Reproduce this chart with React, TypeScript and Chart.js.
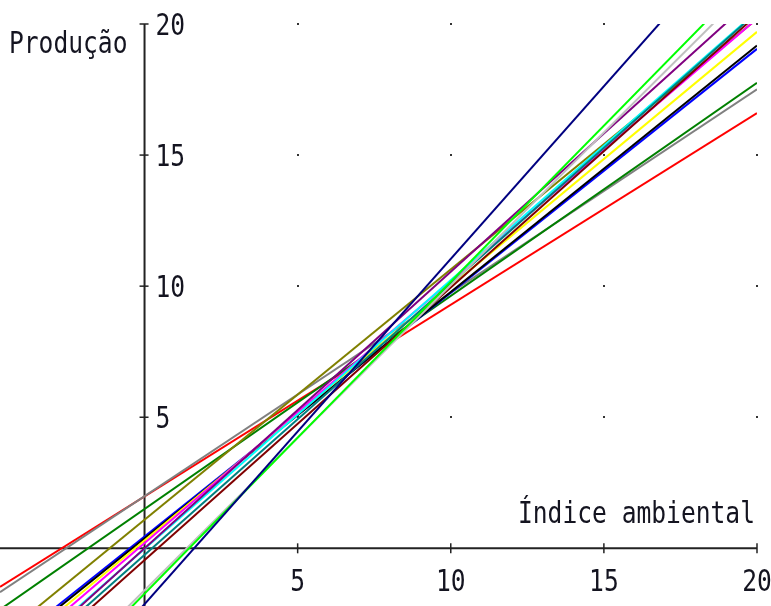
import React, { useEffect, useRef } from "react";
import { Chart, registerables } from "chart.js";

Chart.register(...registerables);

// Genotype regression lines (Finlay-Wilkinson style): y = a + b * x
const genotypeColors = [
  "#000080", "#00FF00", "#C0C0C0", "#800080", "#008080",
  "#00FFFF", "#800000", "#FF00FF", "#808000", "#FFFF00",
  "#000000", "#0000FF", "#008000", "#808080", "#FF0000",
];
const intercepts = [
  -2.13, -1.73, -1.6, 0.0, -0.25,
  -0.02, -0.45, 0.2, 1.09, 0.3,
  0.38, 0.45, 1.5, 1.99, 1.98,
];
const slopes = [
  1.317, 1.19, 1.164, 1.055, 1.035,
  1.025, 1.04, 1.0, 0.955, 0.97,
  0.94, 0.93, 0.813, 0.776, 0.731,
];

const xTicks = [5, 10, 15, 20];
const yTicks = [5, 10, 15, 20];
const xTickLabels = ["5", "10", "15", "20"];
const yTickLabels = ["5", "10", "15", "20"];

const xTitle = "Índice ambiental";
const yTitle = "Produção";

const X_MIN = -4.72;
const X_MAX = 20;
const Y_MIN = -2.2;
const Y_MAX = 20;

const FONT = "30px 'DejaVu Sans Mono', monospace";
const SX = 0.82;

function drawText(ctx: CanvasRenderingContext2D, text: string, x: number, y: number, align: "left" | "center") {
  ctx.save();
  ctx.font = FONT;
  ctx.fillStyle = "#141420";
  ctx.textBaseline = "alphabetic";
  const w = ctx.measureText(text).width * SX;
  const left = align === "center" ? x - w / 2 : x;
  ctx.translate(left, y);
  ctx.scale(SX, 1);
  ctx.textAlign = "left";
  ctx.fillText(text, 0, 0);
  ctx.restore();
}

const axesPlugin = {
  id: "customAxes",
  beforeDatasetsDraw(chart: any) {
    const ctx: CanvasRenderingContext2D = chart.ctx;
    const xs = chart.scales.x;
    const ys = chart.scales.y;
    const x0 = xs.getPixelForValue(0);
    const y0 = ys.getPixelForValue(0);
    const xEnd = xs.getPixelForValue(X_MAX);
    const yTop = ys.getPixelForValue(Y_MAX);

    ctx.save();
    // grid dots
    ctx.fillStyle = "#333";
    xTicks.forEach((tx) => {
      yTicks.forEach((ty) => {
        const px = Math.round(xs.getPixelForValue(tx));
        const py = Math.round(ys.getPixelForValue(ty));
        ctx.fillRect(px - 1, py - 1, 2, 2);
      });
    });

    ctx.strokeStyle = "#222";
    ctx.lineWidth = 2;
    // x axis
    ctx.beginPath();
    ctx.moveTo(0, y0);
    ctx.lineTo(xEnd, y0);
    ctx.stroke();
    // y axis
    ctx.beginPath();
    ctx.moveTo(x0, yTop);
    ctx.lineTo(x0, chart.height);
    ctx.stroke();

    ctx.lineWidth = 1.5;
    xTicks.forEach((tx) => {
      const px = xs.getPixelForValue(tx);
      ctx.beginPath();
      ctx.moveTo(px, y0 - 5);
      ctx.lineTo(px, y0 + 5);
      ctx.stroke();
    });
    yTicks.forEach((ty) => {
      const py = ys.getPixelForValue(ty);
      ctx.beginPath();
      ctx.moveTo(x0 - 5, py);
      ctx.lineTo(x0 + 4, py);
      ctx.stroke();
    });
    ctx.restore();

    // labels
    xTicks.forEach((tx, i) => {
      drawText(ctx, xTickLabels[i], xs.getPixelForValue(tx), y0 + 43, "center");
    });
    yTicks.forEach((ty, i) => {
      drawText(ctx, yTickLabels[i], x0 + 11, ys.getPixelForValue(ty) + 11, "left");
    });
    drawText(ctx, yTitle, 9, 53, "left");
    drawText(ctx, xTitle, 518, 523, "left");
  },
};

export default function App() {
  const canvasRef = useRef<HTMLCanvasElement | null>(null);

  useEffect(() => {
    if (!canvasRef.current) return;
    const datasets = genotypeColors.map((color, i) => ({
      label: "G" + (i + 1),
      data: [
        { x: X_MIN, y: intercepts[i] + slopes[i] * X_MIN },
        { x: X_MAX, y: intercepts[i] + slopes[i] * X_MAX },
      ],
      borderColor: color,
      backgroundColor: color,
      borderWidth: 2,
      pointRadius: 0,
      fill: false,
      tension: 0,
    }));
    const chart = new Chart(canvasRef.current, {
      type: "line",
      data: { datasets },
      options: {
        animation: false,
        responsive: false,
        layout: { padding: { left: 0, right: 14, top: 24, bottom: 0 } },
        plugins: { legend: { display: false }, tooltip: { enabled: false } },
        scales: {
          x: { type: "linear", min: X_MIN, max: X_MAX, display: false },
          y: { type: "linear", min: Y_MIN, max: Y_MAX, display: false },
        },
      },
      plugins: [axesPlugin],
    });
    return () => chart.destroy();
  }, []);

  return (
    <div style={{ position: "absolute", left: 0, top: 0, width: 771, height: 606, background: "#fff" }}>
      <canvas ref={canvasRef} width={771} height={606} style={{ display: "block" }} />
    </div>
  );
}
